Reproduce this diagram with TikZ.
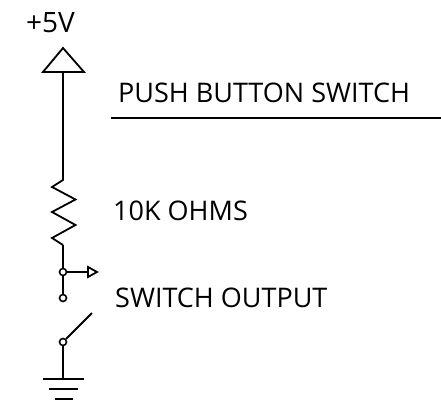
\documentclass[tikz,border=0pt]{standalone}
\usepackage{fontspec}
\setmainfont{Open Sans}
\begin{document}
\begin{tikzpicture}[x=1pt,y=-1pt,
  wire/.style={line width=1.8pt,line join=miter},
  term/.style={circle,draw,fill=white,line width=1.6pt,inner sep=0pt,minimum size=7pt},
  lbl/.style={anchor=base west,inner sep=0pt,font=\fontsize{27}{30}\selectfont}]
\useasboundingbox (0,0) rectangle (441,403);
% supply
\node[lbl,font=\fontsize{28}{30}\selectfont] (v5) at (26,33) {+5V};
\coordinate (apex) at (63,48);
\coordinate (base) at (63,72);
\draw[wire] (43,72) -- (apex) -- (84,72) -- cycle;
% resistor
\coordinate (rtop) at (63,180);
\coordinate (rbot) at (63,245);
\draw[wire] (base) -- (rtop) -- (52,187) -- (75.5,199.5) -- (52,212) -- (75.5,225) -- (52,238) -- (rbot);
% junction and output arrow
\node[term] (j1) at (63,272) {};
\node[term] (j2) at (63,298) {};
\node[term] (j3) at (63,342) {};
\draw[wire] (rbot) -- (j1);
\draw[wire] (j1) -- (j2);
\coordinate (ab) at (88,272);
\draw[wire] (j1) -- (ab);
\draw[wire] (88,267) -- (97,272) -- (88,277) -- cycle;
% switch lever
\coordinate (lev) at (92,313);
\draw[wire] (j3) -- (lev);
% ground
\coordinate (gnd) at (63,379);
\draw[wire] (j3) -- (gnd);
\draw[wire] (43,379) -- (84,379);
\draw[wire] (49,389) -- (78,389);
\draw[wire] (55,399) -- (73,399);
% labels
\node[lbl] (pb) at (118,103) {PUSH BUTTON SWITCH};
\draw[wire] (111,118) -- (441,118);
\node[lbl] (r) at (113,221) {10K OHMS};
\node[lbl] (so) at (115,307) {SWITCH OUTPUT};
\end{tikzpicture}
\end{document}
